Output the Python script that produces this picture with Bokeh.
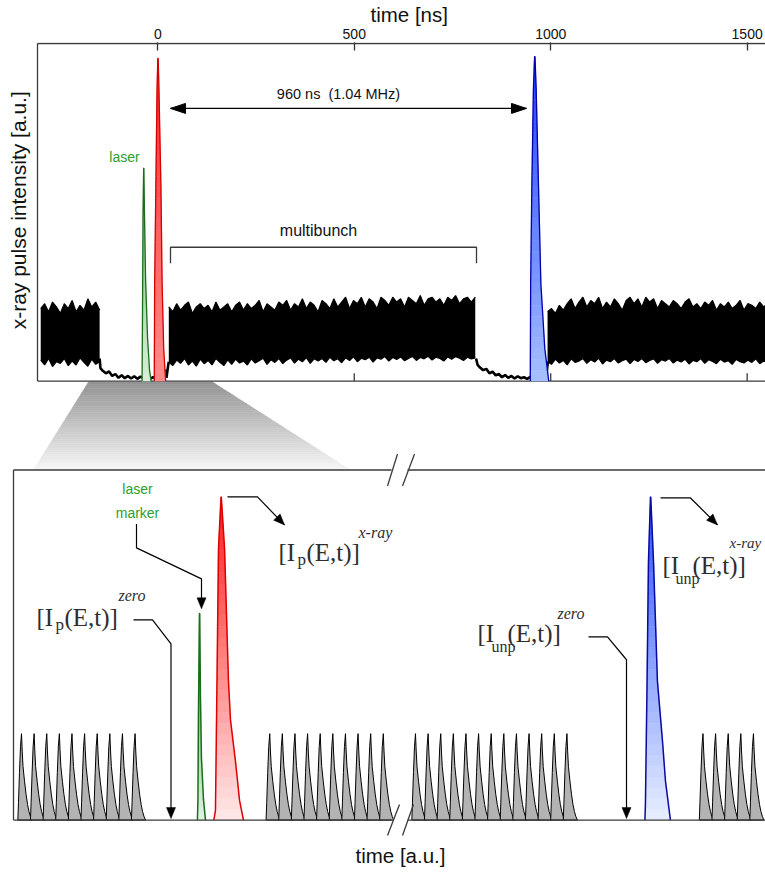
import numpy as np
from bokeh.plotting import figure
from bokeh.models import Range1d, LinearAxis, FixedTicker, Label
from bokeh.embed import file_html
from bokeh.resources import INLINE

# ================= DATA =================
# ---- upper panel: time [ns], intensity [a.u.] (red x-ray pulse = 100)
top_ticks_ns = [0, 500, 1000, 1500]

# multibunch signal envelopes, sampled every 10 ns
trainA_start_ns, trainA_step_ns = -298, 10
trainA_high = [22.5, 24.0, 21.5, 24.5, 23.0, 21.0, 24.0, 22.5, 25.0, 21.5, 23.5, 22.0, 25.5, 23.0, 24.5, 22.0]
trainA_low = [6.5, 5.0, 7.0, 4.5, 6.0, 5.5, 7.0, 4.8, 6.2, 5.0, 7.2, 5.8, 4.6, 6.8, 5.2, 6.0]

trainB_start_ns, trainB_step_ns = 28, 10
trainB_high = [23.0, 21.5, 24.0, 22.0, 23.5, 24.5, 21.0, 23.0, 24.0, 22.5,
               23.5, 21.5, 24.5, 22.0, 23.0, 24.0, 21.5, 23.5, 24.5, 22.0,
               24.0, 22.5, 23.5, 25.0, 21.5, 24.0, 23.0, 22.0, 24.5, 23.5,
               25.0, 22.0, 24.0, 23.0, 25.5, 22.5, 24.5, 23.5, 21.5, 25.0,
               24.0, 22.5, 25.5, 23.0, 24.5, 26.0, 22.5, 25.0, 24.0, 26.0,
               23.0, 25.5, 24.5, 22.5, 26.0, 25.0, 23.5, 26.0, 24.5, 25.5,
               23.0, 26.0, 25.0, 24.0, 26.5, 23.5, 25.5, 26.0, 24.5, 25.5,
               23.5, 26.0, 25.0, 26.5, 24.0, 25.5, 26.0, 24.5, 26.0]
trainB_low = [6.0, 4.8, 6.5, 5.5, 7.0, 5.0, 6.2, 4.6, 6.8, 5.4,
              6.4, 5.0, 7.0, 5.8, 4.8, 6.6, 5.2, 6.8, 5.6, 6.2,
              5.0, 6.9, 5.6, 6.3, 7.1, 5.2, 6.6, 5.8, 7.0, 5.4,
              6.5, 7.2, 5.6, 6.8, 6.0, 7.3, 5.5, 6.9, 6.2, 7.0,
              5.8, 7.4, 6.3, 6.9, 5.7, 7.2, 6.4, 7.5, 6.0, 7.1,
              6.6, 7.4, 5.9, 7.2, 6.8, 7.6, 6.2, 7.3, 6.7, 7.5,
              6.3, 7.0, 7.6, 6.4, 7.3, 6.9, 7.7, 6.5, 7.4, 7.0,
              6.2, 7.5, 6.8, 7.6, 7.1, 6.4, 7.4, 6.9, 7.2]

trainC_start_ns, trainC_step_ns = 992, 10
trainC_high = [21.5, 22.5, 21.0, 23.5, 22.0, 24.0, 25.5, 22.5, 24.5, 26.0,
               23.0, 25.0, 24.0, 26.0, 22.5, 24.5, 23.0, 25.5, 24.0, 22.0,
               25.0, 26.0, 24.0, 25.5, 23.0, 26.0, 24.5, 25.5, 22.5, 25.0,
               24.0, 23.0, 25.0, 24.0, 22.5, 24.5, 25.5, 23.0, 24.0, 22.5,
               24.5, 23.5, 25.0, 22.0, 24.0, 23.0, 24.5, 22.5, 23.5, 25.0,
               22.0, 24.0, 23.5, 22.5, 24.5, 23.0, 24.0]
trainC_low = [6.0, 5.2, 6.8, 5.6, 6.4, 5.0, 6.9, 5.8, 6.2, 7.0,
              5.5, 6.6, 5.9, 7.1, 5.3, 6.5, 6.0, 7.0, 5.6, 6.3,
              6.8, 5.4, 6.7, 6.1, 7.0, 5.7, 6.4, 6.9, 5.5, 6.6,
              6.2, 7.0, 5.6, 6.5, 5.9, 6.8, 5.3, 6.4, 6.0, 7.0,
              5.5, 6.6, 6.1, 5.4, 6.8, 5.9, 6.3, 5.2, 6.7, 6.0,
              5.6, 6.5, 5.8, 6.9, 5.4, 6.2, 6.0]

# empty gaps (background level)
gap1_ns = [-148, -146, -140, -132, -124, -116, -108, -100, -92, -84, -76, -68, -60,
           -52, -44, -36, -28, -20, -12, -4, 4, 12, 18, 22, 26, 28]
gap1_level = [7.0, 4.0, 3.2, 2.4, 3.0, 1.6, 2.2, 1.0, 1.8, 0.9, 1.6, 0.8, 1.5,
              0.7, 1.4, 0.8, 1.3, 0.6, 1.2, 0.7, 1.1, 0.6, 3.5, 1.0, 4.5, 6.0]
gap2_ns = [810, 814, 820, 828, 836, 844, 852, 860, 868, 876, 884, 892, 900,
           908, 916, 924, 932, 940, 948, 956, 964, 972, 980, 986, 990, 993]
gap2_level = [7.0, 5.0, 4.2, 3.4, 3.8, 2.4, 2.9, 1.8, 2.2, 1.2, 1.9, 1.0, 1.6,
              0.8, 1.5, 0.9, 1.2, 0.7, 1.3, 0.8, 1.0, 0.6, 1.2, 0.8, 3.0, 6.0]

# single pulses (peak time, peak height, edge profiles: offset [ns] vs fraction of height)
laser_top_ns, laser_top_h = -36, 66
laser_top_left_dt, laser_top_left_f = [-4, -3, -1.5, 0], [0, 0.3, 0.8, 1]
laser_top_right_dt, laser_top_right_f = [0.5, 2, 5, 10, 15, 19], [1, 0.8, 0.47, 0.2, 0.05, 0]

red_top_ns, red_top_h = 0, 100
red_top_left_dt, red_top_left_f = [-9, -8, -5, -2, 0], [0, 0.3, 0.6, 0.9, 1]
red_top_right_dt, red_top_right_f = [1, 3, 8, 11, 15, 20], [1, 0.9, 0.6, 0.3, 0.1, 0]

blue_top_ns, blue_top_h = 959, 100.6
blue_top_left_dt, blue_top_left_f = [-11, -10, -7, -3, 0], [0, 0.3, 0.6, 0.9, 1]
blue_top_right_dt, blue_top_right_f = [1, 4, 10, 16, 26, 36], [1, 0.9, 0.6, 0.3, 0.1, 0]

# ---- lower panel: schematic time [a.u.] (bunch spacing = 1), height [a.u.] (bunch = 1)
train1_t = [0, 1, 2, 3, 4, 5, 6, 7, 8, 9]
train2_t = [19.67, 20.67, 21.67, 22.67, 23.67, 24.67, 25.67, 26.67, 27.67, 28.67]
train3_t = [31.22, 32.22, 33.22, 34.22, 35.22, 36.22, 37.22, 38.22, 39.22, 40.22, 41.22, 42.22, 43.22]
train4_t = [54, 55, 56, 57, 58]
bunch_h = 1.0
bunch_left_dt, bunch_left_f = [-0.29, -0.24, -0.16, -0.08, 0], [0, 0.2, 0.55, 0.85, 1]
bunch_right_dt = [0, 0.055, 0.12, 0.24, 0.36, 0.48, 0.59, 0.71, 0.83]
bunch_right_f = [1, 0.8, 0.62, 0.45, 0.3, 0.18, 0.1, 0.04, 0]

laser_t, laser_h = 14.10, 2.39
laser_left_dt, laser_left_f = [-0.16, -0.12, -0.08, 0], [0, 0.1, 0.5, 1]
laser_right_dt, laser_right_f = [0.02, 0.08, 0.16, 0.32, 0.48], [1, 0.6, 0.3, 0.1, 0]

pumped_t, pumped_h = 15.81, 3.74
pumped_left_dt, pumped_left_f = [-0.57, -0.44, -0.32, -0.2, 0], [0, 0.03, 0.43, 0.84, 1]
pumped_right_dt = [0.02, 0.28, 0.59, 0.75, 1.15, 1.47, 1.78]
pumped_right_f = [1, 0.84, 0.43, 0.31, 0.18, 0.06, 0]

unpumped_t, unpumped_h = 49.84, 3.74
unpumped_left_dt, unpumped_left_f = [-0.44, -0.4, -0.28, -0.16, 0], [0, 0.05, 0.4, 0.8, 1]
unpumped_right_dt = [0.02, 0.24, 0.55, 0.95, 1.19, 1.58]
unpumped_right_f = [1, 0.8, 0.43, 0.245, 0.12, 0]

# ================= HELPERS =================
def hex2rgb(h):
    h = h.lstrip('#')
    return tuple(int(h[i:i + 2], 16) for i in (0, 2, 4))

def mix(c1, c2, t):
    a, b = hex2rgb(c1), hex2rgb(c2)
    return '#%02x%02x%02x' % tuple(int(round(a[i] + (b[i] - a[i]) * t)) for i in range(3))

def outline(c, h, ldt, lf, rdt, rf):
    xs = [c + d for d in ldt] + [c + d for d in rdt]
    ys = [h * f for f in lf] + [h * f for f in rf]
    return xs, ys

def strips(c, h, ldt, lf, rdt, rf, c_top, c_bot, n=30):
    lf_a, ld_a = np.array(lf, float), np.array(ldt, float)
    rf_a, rd_a = np.array(rf, float)[::-1], np.array(rdt, float)[::-1]
    xs, ys, cols = [], [], []
    for k in range(n):
        f0, f1 = k / n, (k + 1) / n
        xl0, xl1 = np.interp(f0, lf_a, ld_a), np.interp(f1, lf_a, ld_a)
        xr0, xr1 = np.interp(f0, rf_a, rd_a), np.interp(f1, rf_a, rd_a)
        xs.append([c + xl0, c + xl1, c + xr1, c + xr0])
        ys.append([h * f0, h * f1, h * f1, h * f0])
        cols.append(mix(c_bot, c_top, (f0 + f1) / 2))
    return xs, ys, cols

def head(tip, frm, length, width):
    tx, ty = tip
    fx, fy = frm
    dx, dy = tx - fx, ty - fy
    L = (dx * dx + dy * dy) ** 0.5
    ux, uy = dx / L, dy / L
    bx, by = tx - ux * length, ty - uy * length
    nx, ny = -uy, ux
    return ([tx, bx + nx * width / 2, bx - nx * width / 2],
            [ty, by + ny * width / 2, by - ny * width / 2])

# ================= FIGURE =================
W, H = 765, 872
FT = 41                      # frame top (pixel)
PX_NS, NS0 = 0.3929, 157.3   # px per ns, px of t=0
PX_I, I0 = 3.23, 380.0       # px per intensity unit, px of zero
PX_U, U0 = 12.62, 21.0       # lower panel
PX_V, V0 = 86.5, 819.5

p = figure(width=W, height=H, output_backend="svg", toolbar_location=None,
           x_range=Range1d(-NS0 / PX_NS, (W - NS0) / PX_NS),
           y_range=Range1d((I0 - H) / PX_I, (I0 - FT) / PX_I),
           x_axis_type=None, y_axis_type=None, title="time [ns]",
           min_border_left=0, min_border_right=0, min_border_bottom=0, min_border_top=FT,
           outline_line_color=None, background_fill_color="white", border_fill_color="white")
p.title.align = "left"
p.title.offset = 370
p.title.standoff = 0
p.title.text_font = "Liberation Sans"
p.title.text_font_size = "20.5px"
p.title.text_font_style = "normal"
p.title.text_color = "#111111"

p.extra_x_ranges = {"px": Range1d(0, W), "au": Range1d(-U0 / PX_U, (W - U0) / PX_U)}
p.extra_y_ranges = {"px": Range1d(H, FT), "au": Range1d((V0 - H) / PX_V, (V0 - FT) / PX_V)}
PX = dict(x_range_name="px", y_range_name="px")
AU = dict(x_range_name="au", y_range_name="au")

ax = LinearAxis(ticker=FixedTicker(ticks=top_ticks_ns), major_tick_in=8, major_tick_out=0,
                minor_tick_line_color=None, axis_line_color=None,
                major_tick_line_color="#333333", major_tick_line_width=1.3,
                major_label_standoff=4, major_label_text_font="Liberation Sans",
                major_label_text_font_size="14px", major_label_text_color="#111111")
p.add_layout(ax, "above")

FRAME = "#3a3a3a"

# ---- zoom trapezoid (gradient)
n_tr = 40
yt, yb = 381.0, 469.0
tr_xs, tr_ys, tr_c = [], [], []
for k in range(n_tr):
    a0, a1 = k / n_tr, (k + 1) / n_tr
    y0, y1 = yt + (yb - yt) * a0, yt + (yb - yt) * a1
    l0, l1 = 88 + (33 - 88) * a0, 88 + (33 - 88) * a1
    r0, r1 = 212 + (350 - 212) * a0, 212 + (350 - 212) * a1
    tr_xs.append([l0, l1, r1, r0])
    tr_ys.append([y0, y1, y1, y0])
    tr_c.append(mix("#939393", "#f7f7f7", (a0 + a1) / 2))
p.patches(tr_xs, tr_ys, fill_color=tr_c, line_color=tr_c, line_width=0.6, **PX)

# ---- upper panel frame
p.multi_line([[37, 37], [37, W], [37, W]], [[42, 380], [42, 42], [380, 380]],
             line_color=FRAME, line_width=1.3, **PX)
p.segment(x0=top_ticks_ns, y0=[0] * 4, x1=top_ticks_ns, y1=[2.4] * 4,
          line_color=FRAME, line_width=1.3)

# ---- multibunch noise
for t0, dt, hi, lo in [(trainA_start_ns, trainA_step_ns, trainA_high, trainA_low),
                       (trainB_start_ns, trainB_step_ns, trainB_high, trainB_low),
                       (trainC_start_ns, trainC_step_ns, trainC_high, trainC_low)]:
    t = t0 + dt * np.arange(len(hi))
    p.varea(x=t, y1=lo, y2=hi, fill_color="black")
    p.line(t, hi, line_color="black", line_width=1.2)
    p.line(t, lo, line_color="black", line_width=1.2)
p.line(gap1_ns, gap1_level, line_color="black", line_width=2.6)
p.line(gap2_ns, gap2_level, line_color="black", line_width=2.6)

# ---- upper panel pulses
for (c, h, ld, lf, rd, rf, ctop, cbot, cl) in [
        (laser_top_ns, laser_top_h, laser_top_left_dt, laser_top_left_f, laser_top_right_dt, laser_top_right_f,
         "#6cbf6c", "#d8efd8", "#1d6b1d"),
        (red_top_ns, red_top_h, red_top_left_dt, red_top_left_f, red_top_right_dt, red_top_right_f,
         "#ff2a2a", "#ff8c8c", "#d40000"),
        (blue_top_ns, blue_top_h, blue_top_left_dt, blue_top_left_f, blue_top_right_dt, blue_top_right_f,
         "#1f3fff", "#a6c0ff", "#0000a8")]:
    xs, ys, cols = strips(c, h, ld, lf, rd, rf, ctop, cbot)
    p.patches(xs, ys, fill_color=cols, line_color=cols, line_width=0.5)
    ox, oy = outline(c, h, ld, lf, rd, rf)
    p.line(ox, oy, line_color=cl, line_width=1.3)

# ---- upper annotations
p.line([170, 526], [107, 107], line_color="black", line_width=1.3, **PX)
hx1, hy1 = head((170, 107), (526, 107), 15, 10)
hx2, hy2 = head((526, 107), (170, 107), 15, 10)
p.patches([hx1, hx2], [hy1, hy2], fill_color="black", line_color="black", **PX)
p.multi_line([[170, 170, 476, 476]], [[262, 246, 246, 262]], line_color=FRAME, line_width=1.3, **PX)

# ---- lower panel bunches
g_xs, g_ys = [], []
for t in train1_t + train2_t + train3_t + train4_t:
    ox, oy = outline(t, bunch_h, bunch_left_dt, bunch_left_f, bunch_right_dt, bunch_right_f)
    g_xs.append(ox)
    g_ys.append(oy)
p.patches(g_xs, g_ys, fill_color="#b3b3b3", line_color="black", line_width=1.0, **AU)

for (c, h, ld, lf, rd, rf, ctop, cbot, cl) in [
        (laser_t, laser_h, laser_left_dt, laser_left_f, laser_right_dt, laser_right_f,
         "#3f9f3f", "#e2f3e2", "#1a6e1a"),
        (pumped_t, pumped_h, pumped_left_dt, pumped_left_f, pumped_right_dt, pumped_right_f,
         "#ff1c1c", "#ffe8e8", "#dd0000"),
        (unpumped_t, unpumped_h, unpumped_left_dt, unpumped_left_f, unpumped_right_dt, unpumped_right_f,
         "#2850ff", "#e8efff", "#0a0aa0")]:
    xs, ys, cols = strips(c, h, ld, lf, rd, rf, ctop, cbot)
    p.patches(xs, ys, fill_color=cols, line_color=cols, line_width=0.5, **AU)
    ox, oy = outline(c, h, ld, lf, rd, rf)
    p.line(ox, oy, line_color=cl, line_width=1.5, **AU)

# ---- lower panel frame with axis breaks
p.multi_line([[13, 13], [13, 391], [407, W], [13, 391], [407, W],
              [387, 397], [402, 414], [387, 399], [402, 413]],
             [[469, 819.5], [469, 469], [469, 469], [819.5, 819.5], [819.5, 819.5],
              [485, 453], [485, 453], [835, 804], [835, 804]],
             line_color=FRAME, line_width=1.3, **PX)

# ---- lower leaders with arrows
leaders = [
    ([136, 136, 201, 201], [523, 547, 578, 600], (201, 608)),
    ([227, 257, 284], [496, 496, 524], (284, 524)),
    ([133, 152, 170.5, 170.5], [619, 619, 643, 808], (170.5, 818)),
    ([588, 607, 626, 626], [636, 636, 659, 808], (626, 818)),
    ([660, 690, 717], [497, 497, 524], (717, 524)),
]
hxs, hys = [], []
for xs, ys, tip in leaders:
    p.line(xs, ys, line_color="black", line_width=1.2, **PX)
    hx, hy = head(tip, (xs[-2], ys[-2]), 11, 9)
    hxs.append(hx)
    hys.append(hy)
p.patches(hxs, hys, fill_color="black", line_color="black", line_width=0.5, **PX)

# ================= TEXT =================
SANS, SERIF = "Liberation Sans", "Liberation Serif"
GREEN = "#2ca02c"

def lab(x, y, text, size, font=SANS, color="#111111", align="left", style="normal",
        baseline="alphabetic", angle=0):
    px = float(size.replace("px", ""))
    yy = y - 0.42 * px if baseline == "alphabetic" else y
    p.add_layout(Label(x=x, y=yy, text=text, text_font=font, text_font_size=size,
                       text_color=color, text_align=align, text_baseline=baseline,
                       text_font_style=style, angle=angle, angle_units="deg", **PX))

lab(18, 209, "x-ray pulse intensity [a.u.]", "21px", align="center", baseline="middle", angle=90)
lab(338, 99, "960 ns\u00a0 (1.04 MHz)", "14.5px", align="center")
lab(318, 236, "multibunch", "16px", align="center")
lab(124, 162, "laser", "14px", color=GREEN, align="center")

lab(400, 864, "time [a.u.]", "20.5px", align="center")
lab(137, 494, "laser", "14px", color=GREEN, align="center")
lab(137, 518, "marker", "14px", color=GREEN, align="center")

FC = "#2e2e2e"
for (x, y, sub, xe, xs_, ys_, sup, xsup, ysup, subsz, supsz) in [
        (278, 562, "p", 306, 297, 566, "x-ray", 358, 538, "17px", "16px"),
        (36, 627, "p", 64, 55, 631, "zero", 118, 601, "17px", "16px"),
        (662, 575, "unp", 692, 675, 584, "x-ray", 729, 548, "16px", "15px"),
        (477, 643, "unp", 507, 491, 652, "zero", 557, 619, "16px", "16px")]:
    lab(x, y, "[I", "25px", font=SERIF, color=FC)
    lab(xs_, ys_, sub, subsz, font=SERIF, color=FC)
    lab(xe, y, "(E,t)]", "25px", font=SERIF, color=FC)
    lab(xsup, ysup, sup, supsz, font=SERIF, color=FC, style="italic")

open("out.html", "w").write(file_html(p, INLINE))
